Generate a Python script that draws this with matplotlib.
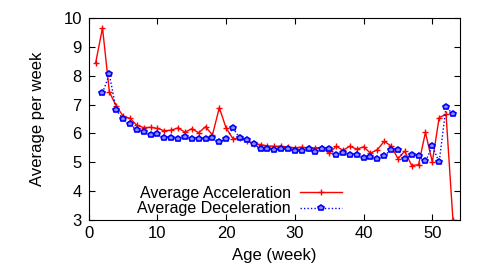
import numpy as np
import matplotlib
matplotlib.use("Agg")
import matplotlib.pyplot as plt

plt.rcParams['font.family'] = ['Liberation Sans', 'DejaVu Sans']

# weekly averages
acc_weeks = list(range(1, 54))
acc_vals = [8.45, 9.67, 7.44, 6.95, 6.60, 6.52, 6.28, 6.20, 6.21, 6.17,
            6.09, 6.11, 6.19, 6.04, 6.16, 6.02, 6.23, 5.94, 6.89, 6.18,
            5.81, 5.83, 5.74, 5.64, 5.61, 5.56, 5.55, 5.55, 5.52, 5.50,
            5.52, 5.48, 5.50, 5.49, 5.30, 5.55, 5.41, 5.55, 5.45, 5.53,
            5.31, 5.43, 5.72, 5.56, 5.12, 5.38, 4.88, 4.91, 6.03, 5.00,
            6.55, 6.66, 3.00]

dec_weeks = list(range(2, 54))
dec_vals = [7.41, 8.05, 6.81, 6.50, 6.31, 6.13, 6.05, 5.95, 5.96,
            5.84, 5.83, 5.80, 5.88, 5.80, 5.82, 5.80, 5.84, 5.70, 5.81,
            6.18, 5.83, 5.78, 5.63, 5.47, 5.46, 5.43, 5.44, 5.47, 5.39,
            5.37, 5.46, 5.34, 5.47, 5.47, 5.25, 5.30, 5.23, 5.24, 5.15,
            5.19, 5.12, 5.21, 5.43, 5.41, 5.09, 5.26, 5.21, 5.02, 5.55,
            5.00, 6.92, 6.67]

fig = plt.figure(figsize=(4.85, 2.71), dpi=100)
ax = fig.add_axes([0.183, 0.19, 0.765, 0.742])

ax.plot(acc_weeks, acc_vals, color='red', lw=1.0, marker='+', ms=5, mew=1.0,
        label='Average Acceleration')
ax.plot(dec_weeks, dec_vals, color='blue', lw=1.0, ls=(0, (1, 1.5)), marker='p',
        ms=4, mfc='#8c8cff', mec='blue', mew=1.2, label='Average Deceleration')

ax.set_xlim(0, 54)
ax.set_ylim(3, 10)
ax.set_xticks(range(0, 51, 10))
ax.set_yticks(range(3, 11))
ax.tick_params(direction='in', top=True, right=True, length=4, labelsize=12, pad=5)
ax.set_xlabel('Age (week)', fontsize=12, labelpad=5)
ax.set_ylabel('Average per week', fontsize=12, labelpad=13)

ax.legend(loc='lower left', bbox_to_anchor=(0.1, -0.04), frameon=False,
          markerfirst=False, fontsize=11.5, handlelength=2.6, borderpad=0.2,
          labelspacing=0.05, handletextpad=0.6)

fig.savefig('out.png', dpi=100)
